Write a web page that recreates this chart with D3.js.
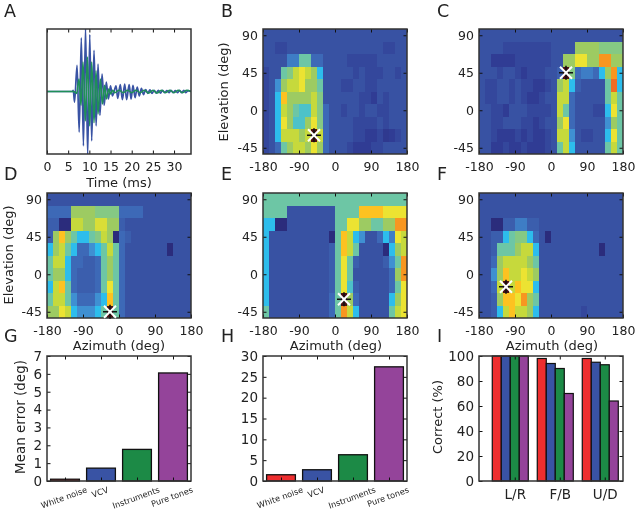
<!DOCTYPE html>
<html><head><meta charset="utf-8">
<script src="https://cdn.jsdelivr.net/npm/d3@7"></script>
<style>
html,body{margin:0;padding:0;background:#fff}
svg{display:block;filter:blur(0.35px)}
text{font-family:"DejaVu Sans",sans-serif;fill:#222}
</style></head><body>
<svg id="c" width="639" height="511"></svg>
<script>
// ---------- data ----------
const blueTimes=[0,6,6.2,6.5,7.1,7.6,8.1,8.6,9.1,9.6,10.1,10.55,11.1,11.6,12.05,12.5,13,13.5,14,14.5,15,15.45,16.3,16.7,17.3,17.8,18.35,18.8,19.4,19.85,20.3,20.8,21.3,21.8,22.3,22.8,23.3,23.8,24.3,24.8,25.3,25.8,26.3,26.8,27.3,27.8,28.3,28.8,29.3,29.8,30.3,30.8,31.3,31.8,32.3,32.8,33.3,34];
const blueValues=[0,0,0.02,-0.17,0.42,-0.65,0.86,-0.87,1.02,-1.02,0.91,-0.79,0.66,-0.55,0.44,-0.38,0.28,-0.22,0.15,-0.12,0.09,-0.07,0.09,-0.11,0.11,-0.13,0.12,-0.13,0.11,-0.12,0.1,-0.1,0.07,-0.07,0.05,-0.05,0.03,-0.03,0.025,-0.03,0.02,-0.025,0.02,-0.025,0.02,-0.02,0.015,-0.02,0.02,-0.02,0.015,-0.02,0.02,-0.02,0.02,-0.02,0.015,0];
const greenTimes=[0,6.3,7,7.56,8.03,8.5,9.06,9.53,10.08,10.55,11.1,11.57,12.05,12.6,13.07,13.6,14,14.57,15,15.5,16,17,18,19,20,21,22,23,24,25,26,27,28,29,30,31,32,33,34];
const greenValues=[0,0,-0.03,0.2,-0.22,0.47,-0.47,0.55,-0.55,0.47,-0.5,0.33,-0.36,0.2,-0.2,0.1,-0.12,0.04,-0.04,0.02,-0.02,0.02,-0.02,0.02,-0.02,0.02,-0.02,0.02,-0.025,0.02,-0.025,0.02,-0.02,0.02,-0.02,0.02,-0.02,0.02,0];

const azimuthTicks=[-180,-90,0,90,180];
const elevationTicks=[-45,0,45,90];
const timeTicks=[0,5,10,15,20,25,30];
const elevationRows=[90,75,60,45,30,15,0,-15,-30,-45];
const azimuthCols=[-180,-165,-150,-135,-120,-105,-90,-75,-60,-45,-30,-15,0,15,30,45,60,75,90,105,120,135,150,165];

const heatB=[
[2,2,2,2,2,2,2,2,2,2,2,2,2,2,2,2,2,2,2,2,2,2,2,2],
[2,2,1.5,1.5,2,2,2,2,2,2,2,2,2,2,2,2,2,2,2,2,1.5,1.5,2,2],
[2,2,2,2,3.5,3.5,6,6,3,3,2,2,2,2,1.5,1.5,1.5,1.5,1.5,2,2,2,2,2],
[1.5,2,2,6,6.5,8,9,8,7,5,2,2,2,2,2,1.5,2,1.5,1.5,1.5,2,2,1.5,2],
[1.5,2,4,7,8,8,9,7,7,6,2,2,2,1.5,1.5,2,2,1.5,1.5,2,2,2,2,2],
[1.5,2,5,10,7,7,7,7,8,6.5,2,2,2,2,2,2,1.5,1.5,1,2,1.5,2,2,2],
[1.5,2,5,8,7,6,5.5,5.5,8,6.5,3,2,2,1.5,2,2,1.5,2,2,1.5,1.5,2,2,2],
[1.5,2,5,9,7,5.5,5.5,7,9,6.5,3,2,2,2,2,1.5,1.5,1.5,1.5,2,1.5,2,2,2],
[1.5,2,5,8,8,8,7,8,13,8,3,2,2,2,2,1.5,1.5,1,1,1.5,0.8,1,1.5,2],
[1.5,2,3,6,7,8,8,7,9,7,3,2,2,2,1.5,1,1,1,1.5,1.5,2,2,2,2]];
const heatC=[
[2,2,2,2,2,2,2,2,2,2,2,2,2,2,2,2,2,2,2,2,2,2,2,2],
[2,2,2,2,1.5,1.5,1.5,1.5,1.5,1.5,1.5,1.5,2,2,2,2,7,7,7,7,6.5,6.5,6.5,6.5],
[2,2,1,1,1,1,1.5,1.5,1.5,1.5,1.5,1.5,2,2,7,7,9,9,7,7,11,11,7,7],
[2,2,2,1.5,2,2,1.5,1,1.5,1.5,1.5,2,2,2.5,13,6.5,3,3.5,3.5,3,5,7,11,5],
[2,1.5,1.5,2,2,1.5,2,1.5,1.5,1,1,1.5,2,7,8,5,2.5,2,2,2,2,6,12,5],
[2,1.5,1.5,2,2,1.5,2,1.5,1,1,1.5,2,2,8,8,3,2,2,2,2,2,6,8,6],
[2,2,1.5,1.5,1,2,2,2,1.5,1.5,1.5,1.5,2,8,6,3,2,2,2,1.5,1.5,5,9,6],
[2,2,1.5,1.5,2,2,2,1.5,1.5,1,1.5,2,2,7,9,3,2,2,2,2,2,4,7,6],
[2,2,1.5,1,1,1,1.5,1,1.5,1,1,1.5,2,8,8,4,2,1.5,1.5,2,2,5,9,6],
[2,2,1,1,1.5,1,1,1.5,1,1,1,1.5,2,6,8,5,2,2,2,2,2,6,8,6]];
const heatD=[
[2,2,2,2,2,2,2,2,2,2,2,2,2,2,2,2,2,2,2,2,2,2,2,2],
[3,3,3,3,7,7,7,7,6.5,6.5,6.5,6.5,3,3,3,3,2,2,2,2,2,2,2,2],
[2.5,2.5,0,0,8,8,7,7,8.5,8.5,7,7,2.5,2,2,2,2,2,2,2,2,2,2,2],
[2.5,7,10,7,6,5,5,6,6.5,8,7,0,3,2.5,2,2,2,2,2,2,2,2,2,2],
[5,7,8,6,5,3,3,4,5,6,8,6,3,2,2,2,2,2,2,2,0,2,2,2],
[6,8,8,5,3,3,2.5,2.5,3,6,7,6,3,2,2,2,2,2,2,2,2,2,2,2],
[6,7,7,5,3,2.5,2.5,2.5,3,6,7,6,3,2,2,2,2,2,2,2,2,2,2,2],
[5,8,10,6,3,2.5,2.5,2.5,3,6,9,6,3,2,2,2,2,2,2,2,2,2,2,2],
[6,8,8,6,4,3,3,3,4,5,10,6,3,2,2,2,2,2,2,2,2,2,2,2],
[7,7,9,8,5,4,4,4,5,6,13,6,3,2,2,2,2,2,2,2,2,2,2,2]];
const heatE=[
[6,6,6,6,6,6,6,6,6,6,6,6,6,6,6,6,6,6,6,6,6,6,6,6],
[6,6,6,6,2,2,2,2,2,2,2,2,6,6,6,6,10,10,10,10,9,9,9,9],
[5,5,0,0,2,2,2,2,2,2,2,2,6,6,9,9,7,7,6,6,7,7,11,11],
[5,2,2,2,2,2,2,2,2,2,2,0,6,10,8,5,4,2,2,3,5,3.5,9,8],
[5,2,2,2,2,2,2,2,2,2,2,2.5,6,10,8,6,2,2,2,2,0,5,7,8],
[5,2,2,2,2,2,2,2,2,2,2,2.5,6,9,6,2.5,2,2,2,2,2.5,4,6,11],
[5,2,2,2,2,2,2,2,2,2,2,2.5,6,9,6,2,2,2,2,2,2,3,7,11],
[5,2,2,2,2,2,2,2,2,2,2,2.5,6,9,5.5,2.5,2,2,2,2,2,3,6,9],
[5,2,2,2,2,2,2,2,2,2,2,3,6,13,7,3,2,2,2,2,2,5,7,9],
[6,2,2,2,2,2,2,2,2,2,2,3,6,11,8,5,2,2,2,2,2,6,8,9]];
const heatF=[
[2,2,2,2,2,2,2,2,2,2,2,2,2,2,2,2,2,2,2,2,2,2,2,2],
[2,2,2,2,2,2,2,2,2,2,2,2,2,2,2,2,2,2,2,2,2,2,2,2],
[2,2,0,0,2.5,2.5,3.5,3.5,2.5,2.5,2,2,2,2,2,2,2,2,2,2,2,2,2,2],
[2,2,2.5,2.5,5,6,6.5,6.5,5,3,2,0,2,2,2,2,2,2,2,2,2,2,2,2],
[2,2,2.5,6,6,6,7,8,8,5,2,2,2,2,2,2,2,2,2,2,0,2,2,2],
[2,2,3,7,8,8,8,8,7,6,2,2,2,2,2,2,2,2,2,2,2,2,2,2],
[2,2,4,7,10,8,8,9,8,7,2,2,2,2,2,2,2,2,2,2,2,2,2,2],
[2,2,3,8,13,8,10,9,9,5,2,2,2,2,2,2,2,2,2,2,2,2,2,2],
[2,2,2.5,7,10,10,9,11,7,6,2,2,2,2,2,2,2,2,2,2,2,2,2,2],
[2,2,2.5,5,8,10,8,8,7,5,2,2,2,2,2,2,2,1.5,2,2,2,2,2,2]];
// marker cell: [azimuth column value, elevation row value]
const markerB=[-60,-30], markerC=[30,45], markerD=[-30,-45], markerE=[15,-30], markerF=[-120,-15];

const levelStops=[0,1,2,3,4,5,6,7,8,9,10,11,12,13];
const levelColors=["#2b2c7c","#303c94","#3852a3","#3d69b7","#3f90d2","#2dbdec","#6dc6a5","#9dcb62","#c6d93c","#ece332","#fdc221","#f79620","#ef6c23","#4d0f14"];

const soundCategories=["White noise","VCV","Instruments","Pure tones"];
const soundColors=["#ee2e2f","#3953a4","#1c8a46","#94449a"];
const azimuthErrors=[0.1,0.72,1.77,6.05];
const elevationErrors=[1.5,2.7,6.3,27.4];
const errorTicksG=[0,1,2,3,4,5,6,7];
const errorTicksH=[0,5,10,15,20,25,30];
const confusionLabels=["L/R","F/B","U/D"];
const correctWhiteNoise=[100,98,98];
const correctVCV=[100,94,95];
const correctInstruments=[100,90,93];
const correctPureTones=[100,70,64];
const correctTicks=[0,20,40,60,80,100];
const panelLetters=["A","B","C","D","E","F","G","H","I"];

// ---------- layout ----------
const svg=d3.select("#c");
const colsX=[[47,191],[263,407],[479,623]];
const rowsY=[[29,154],[193,318],[356,481]];
const lettersX=[4,221,437], lettersY=[17,180,342];
panelLetters.forEach((l,i)=>svg.append("text").attr("x",lettersX[i%3]).attr("y",lettersY[Math.floor(i/3)]).attr("font-size",17.5).text(l));

function frame(g,x,y,xt,yt,fs,xFmt,yFmt){
  const [x0,x1]=x.range(),[y1,y0]=y.range();
  const ax=(gen,t)=>{const a=g.append("g").attr("transform",t).call(gen);
    a.select(".domain").remove();a.selectAll("line").attr("stroke","#111").attr("stroke-width",1);
    a.selectAll("text").attr("font-size",fs).attr("fill","#222");return a;};
  const size=3.5;
  ax(d3.axisBottom(x).tickValues(xt).tickSizeInner(-size).tickPadding(xFmt===null?0:8).tickFormat(xFmt||(()=>"")),`translate(0,${y1})`);
  ax(d3.axisTop(x).tickValues(xt).tickSizeInner(-size).tickFormat(()=>""),`translate(0,${y0})`);
  if(yt){
    ax(d3.axisLeft(y).tickValues(yt).tickSizeInner(-size).tickPadding(5).tickFormat(yFmt||(d=>d)),`translate(${x0},0)`);
    ax(d3.axisRight(y).tickValues(yt).tickSizeInner(-size).tickFormat(()=>""),`translate(${x1},0)`);
  }
  g.append("rect").attr("x",x0).attr("y",y0).attr("width",x1-x0).attr("height",y1-y0)
    .attr("fill","none").attr("stroke","#333").attr("stroke-width",1.5);
}
function label(x,y,s,fs,rot){
  const t=svg.append("text").attr("text-anchor","middle").attr("font-size",fs).text(s);
  t.attr("transform",`translate(${x},${y})`+(rot?` rotate(${rot})`:""));
}

// ---------- panel A ----------
{
  const g=svg.append("g");
  const x=d3.scaleLinear().domain([0,34]).range(colsX[0]);
  const y=d3.scaleLinear().domain([-1,1]).range([rowsY[0][1],rowsY[0][0]]);
  const defs=svg.append("defs");
  defs.append("clipPath").attr("id","clipA").append("rect").attr("x",47).attr("y",29).attr("width",144).attr("height",125);
  const line=d3.line().x(d=>x(d[0])).y(d=>y(d[1])).curve(d3.curveMonotoneX);
  const plot=g.append("g").attr("clip-path","url(#clipA)");
  plot.append("path").attr("d",line(d3.zip(blueTimes,blueValues))).attr("fill","none").attr("stroke","#3953a4").attr("stroke-width",1.7);
  plot.append("path").attr("d",line(d3.zip(greenTimes,greenValues))).attr("fill","none").attr("stroke","#1f8f58").attr("stroke-width",1.6);
  frame(g,x,y,timeTicks,null,12.5,d=>d);
  label(119,187,"Time (ms)",13);
}

// ---------- heat maps ----------
const colour=d3.scaleLinear().domain(levelStops).range(levelColors);
function heat(col,row,mat,marker){
  const g=svg.append("g");
  const x=d3.scaleLinear().domain([-180,180]).range(colsX[col]);
  const y=d3.scaleLinear().domain([-52.5,97.5]).range([rowsY[row][1],rowsY[row][0]]);
  mat.forEach((r,i)=>r.forEach((v,j)=>{
    const az=azimuthCols[j],el=elevationRows[i];
    g.append("rect").attr("x",x(az)).attr("y",y(el+7.5)).attr("width",x(az+15)-x(az)).attr("height",y(el-7.5)-y(el+7.5))
      .attr("fill",colour(v)).attr("shape-rendering","crispEdges");
  }));
  frame(g,x,y,azimuthTicks,elevationTicks,12.5,d=>d);
  const mx=x(marker[0]+7.5),my=y(marker[1]),s=7;
  const mk=g.append("g");
  mk.append("path").attr("d",`M${mx-s},${my}H${mx+s}M${mx},${my-s}V${my+s}`).attr("stroke","#111").attr("stroke-width",1.6);
  mk.append("path").attr("d",`M${mx-s+1},${my-s+1}L${mx+s-1},${my+s-1}M${mx-s+1},${my+s-1}L${mx+s-1},${my-s+1}`).attr("stroke","#fff").attr("stroke-width",2);
}
heat(1,0,heatB,markerB);
heat(2,0,heatC,markerC);
heat(0,1,heatD,markerD);
heat(1,1,heatE,markerE);
heat(2,1,heatF,markerF);
label(119,350,"Azimuth (deg)",13);
label(336,350,"Azimuth (deg)",13);
label(552,350,"Azimuth (deg)",13);
label(228,92,"Elevation (deg)",13,-90);
label(12.5,255,"Elevation (deg)",13,-90);

// ---------- bar panels ----------
function bars(col,vals,dom,ticks){
  const g=svg.append("g");
  const x=d3.scaleBand().domain(soundCategories).range(colsX[col]).paddingInner(0.2).paddingOuter(0.1);
  const y=d3.scaleLinear().domain(dom).range([rowsY[2][1],rowsY[2][0]]);
  g.selectAll("rect.b").data(vals).enter().append("rect").attr("class","b")
    .attr("x",(d,i)=>x(soundCategories[i])).attr("y",d=>y(d)).attr("width",x.bandwidth()).attr("height",d=>y(0)-y(d))
    .attr("fill",(d,i)=>soundColors[i]).attr("stroke","#111").attr("stroke-width",1.3);
  const cx=c=>x(c)+x.bandwidth()/2;
  const xPos=d3.scaleOrdinal().domain(soundCategories).range(soundCategories.map(cx));
  const xAxisScale=Object.assign(c=>xPos(c),{range:()=>colsX[col],copy:()=>xAxisScale,domain:()=>soundCategories});
  frame(g,xAxisScale,y,soundCategories,ticks,13.5);
  soundCategories.forEach(c=>{
    const t=svg.append("text").attr("text-anchor","middle").attr("font-size",8.2).text(c);
    const w=t.node().getComputedTextLength();
    const a=20*Math.PI/180;
    const half=(w*Math.sin(a)+8.5*Math.cos(a))/2;
    t.attr("transform",`translate(${cx(c)},${486+half+2}) rotate(-20)`);
  });
}
bars(0,azimuthErrors,[0,7],errorTicksG);
bars(1,elevationErrors,[0,30],errorTicksH);
label(25,417,"Mean error (deg)",13.5,-90);

// ---------- panel I ----------
{
  const g=svg.append("g");
  const x=d3.scaleLinear().domain([-0.295,2.905]).range(colsX[2]);
  const y=d3.scaleLinear().domain([0,100]).range([rowsY[2][1],rowsY[2][0]]);
  [correctWhiteNoise,correctVCV,correctInstruments,correctPureTones].forEach((s,j)=>{
    g.selectAll(null).data(s).enter().append("rect")
      .attr("x",(d,i)=>x(i+j*0.2)).attr("y",d=>y(d)).attr("width",x(0.2)-x(0)).attr("height",d=>y(0)-y(d))
      .attr("fill",soundColors[j]).attr("stroke","#111").attr("stroke-width",1.2);
  });
  frame(g,x,y,[0.5,1.5,2.5],correctTicks,13.5,(d,i)=>confusionLabels[i]);
  label(442,417,"Correct (%)",13,-90);
}
</script>
</body></html>
